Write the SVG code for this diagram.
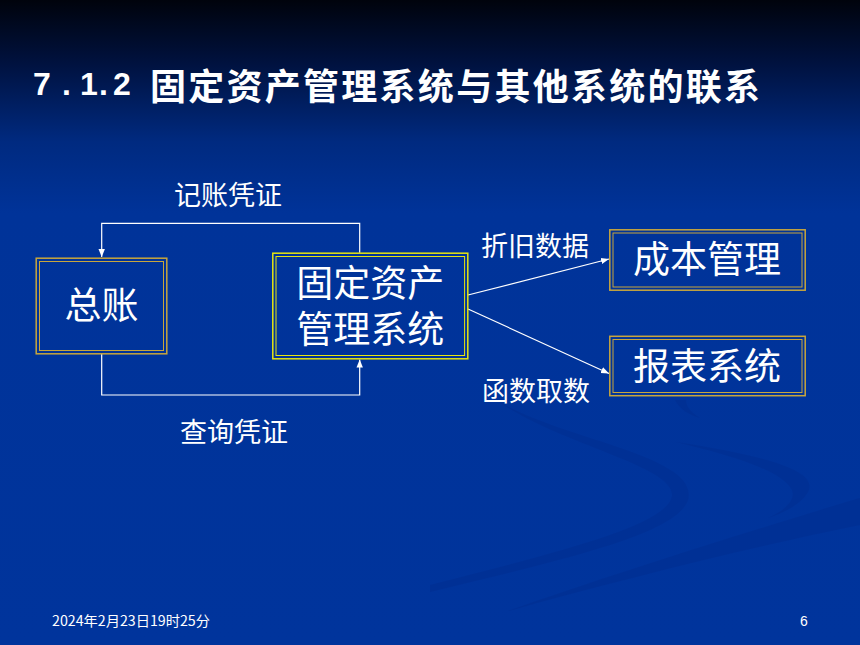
<svg xmlns="http://www.w3.org/2000/svg" width="860" height="645" viewBox="0 0 860 645">
<defs>
<linearGradient id="bg" x1="0" y1="0" x2="0" y2="1">
<stop offset="0" stop-color="#00030c"/>
<stop offset="0.1" stop-color="#001240"/>
<stop offset="0.22" stop-color="#002a80"/>
<stop offset="0.33" stop-color="#003399"/>
<stop offset="1" stop-color="#00349c"/>
</linearGradient>
<marker id="ah" viewBox="0 0 10 10" refX="10" refY="5" markerWidth="8" markerHeight="8" markerUnits="userSpaceOnUse" orient="auto">
<path d="M0,1 L10,5 L0,9 Z" fill="#ffffff"/>
</marker>
<style>
.cn{font-family:"Noto Sans CJK SC","Noto Sans",sans-serif;fill:#ffffff}
.lbl{font-size:27px}
.box{font-size:37px}
.gold{fill:none;stroke:#c8a63c}
.yel{fill:none;stroke:#e6e610}
.conn{fill:none;stroke:#ffffff;stroke-width:1.2}
</style>
</defs>
<rect x="0" y="0" width="860" height="645" fill="url(#bg)"/>
<g id="swooshes" fill="#002a88" opacity="0.3">
<path d="M496 400 C560 440 700 455 688 500 C676 535 560 560 430 592 L430 585 C560 552 668 525 672 496 C676 466 560 445 496 400 Z"/>
<path d="M676 442 C760 455 820 470 808 492 C800 505 785 512 768 518 C790 508 795 498 792 490 C782 470 730 455 676 442 Z"/>
<path d="M675 400 C680 410 690 415 700 418 C690 412 686 406 686 400 Z"/>
<path d="M860 498 L860 525 C760 545 620 580 505 612 C610 575 760 528 860 498 Z"/>
</g>
<g id="title">
<text x="33" y="95" font-family="Liberation Sans, sans-serif" font-weight="bold" font-size="32" fill="#ffffff"><tspan x="33">7</tspan><tspan x="62">.</tspan><tspan x="80">1</tspan><tspan x="99">.</tspan><tspan x="113">2</tspan></text>
<text class="cn" x="150" y="99.5" font-size="36" font-weight="bold" textLength="610" lengthAdjust="spacing">固定资产管理系统与其他系统的联系</text>
</g>
<g id="connectors">
<path class="conn" d="M359.7 252.7 V223.3 H101.7 V257" marker-end="url(#ah)"/>
<path class="conn" d="M101.7 354 V395 H359.7 V359.5" marker-end="url(#ah)"/>
<path class="conn" d="M468 295 L609 259" marker-end="url(#ah)"/>
<path class="conn" d="M468 309 L609 373.5" marker-end="url(#ah)"/>
<text class="cn lbl" x="228" y="205.3" text-anchor="middle">记账凭证</text>
<text class="cn lbl" x="234" y="442.3" text-anchor="middle">查询凭证</text>
<text class="cn lbl" x="535" y="255.5" text-anchor="middle">折旧数据</text>
<text class="cn lbl" x="536" y="400.5" text-anchor="middle">函数取数</text>
</g>
<g id="node-zongzhang">
<rect class="gold" x="36.2" y="258.2" width="130.6" height="95.6" stroke-width="1.5"/>
<rect class="gold" x="39.5" y="261.5" width="124" height="89" stroke-width="1"/>
<text class="cn box" x="101.5" y="319" text-anchor="middle">总账</text>
</g>
<g id="node-gudingzichan">
<rect class="yel" x="272.8" y="253.2" width="195" height="105.6" stroke-width="1.5"/>
<rect class="yel" x="276" y="256.5" width="188.6" height="99" stroke-width="1"/>
<text class="cn box" text-anchor="middle"><tspan x="370.3" y="296.5">固定资产</tspan><tspan x="370.3" y="342.5">管理系统</tspan></text>
</g>
<g id="node-chengben">
<rect class="gold" x="609.8" y="229.8" width="195.4" height="60.4" stroke-width="1.5"/>
<rect class="gold" x="613" y="233" width="189" height="54" stroke-width="1"/>
<text class="cn box" x="707" y="273.3" text-anchor="middle">成本管理</text>
</g>
<g id="node-baobiao">
<rect class="gold" x="609.8" y="336.3" width="195.4" height="59.4" stroke-width="1.5"/>
<rect class="gold" x="613" y="339.5" width="189" height="53" stroke-width="1"/>
<text class="cn box" x="707" y="380.4" text-anchor="middle">报表系统</text>
</g>
<g id="footer">
<text class="cn" x="52" y="626" font-size="14" textLength="158" lengthAdjust="spacingAndGlyphs">2024年2月23日19时25分</text>
<text x="800" y="626" font-family="Liberation Sans, sans-serif" font-size="14" fill="#ffffff">6</text>
</g>
</svg>
